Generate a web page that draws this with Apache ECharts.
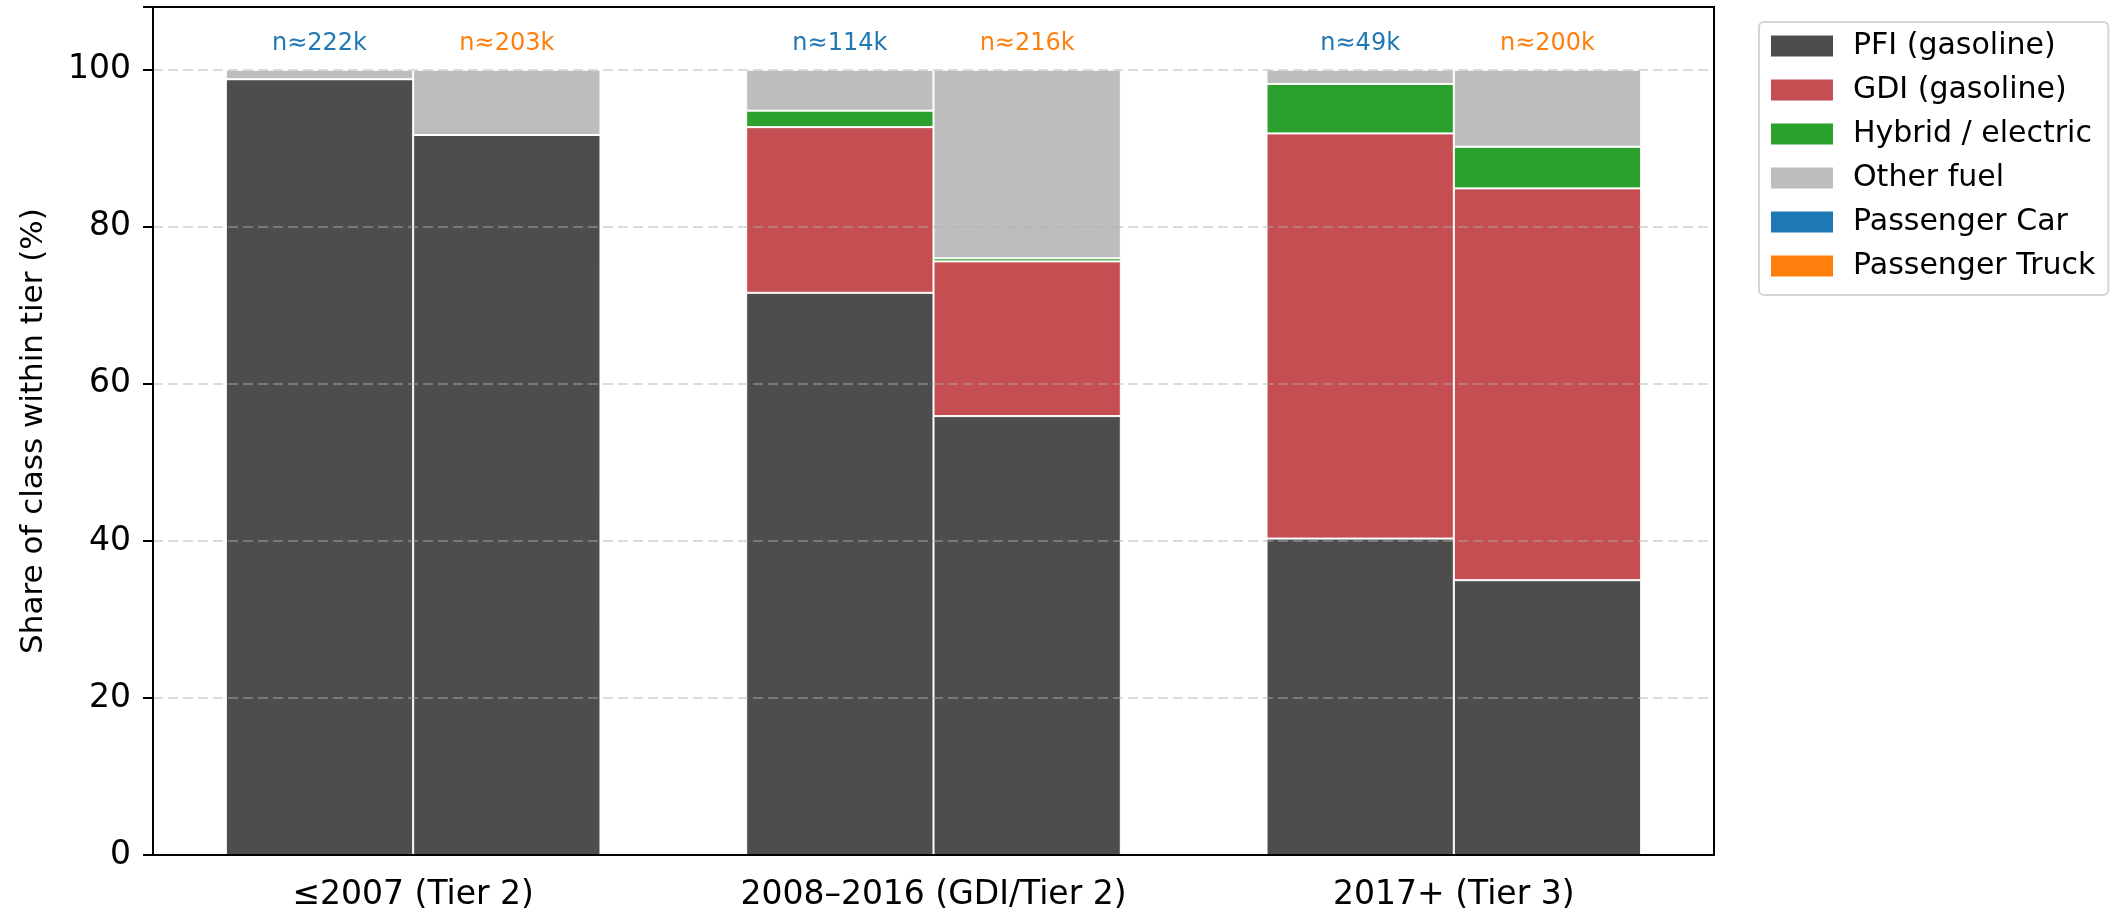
<!DOCTYPE html>
<html>
<head>
<meta charset="utf-8">
<script src="https://cdn.jsdelivr.net/npm/echarts@6/dist/echarts.min.js"></script>
<style>
  html, body { margin: 0; padding: 0; background: #fff; }
  #chart { width: 2121px; height: 912px; }
</style>
</head>
<body>
<div id="chart"></div>
<script>
// tiers on the x axis
var tiers = ['≤2007 (Tier 2)', '2008–2016 (GDI/Tier 2)', '2017+ (Tier 3)'];

// share of class within tier (%), passenger cars
var carPFI    = [98.8, 71.6, 40.3];
var carGDI    = [0, 21.1, 51.6];
var carHybrid = [0, 2.1, 6.3];
var carOther  = [1.2, 5.2, 1.8];

// passenger trucks
var truckPFI    = [91.7, 55.9, 35.0];
var truckGDI    = [0, 19.7, 49.9];
var truckHybrid = [0, 0.4, 5.3];
var truckOther  = [8.3, 24.0, 9.8];

// sample sizes above bars
var nCar   = ['222k', '114k', '49k'];
var nTruck = ['203k', '216k', '200k'];

var yTicks = [0, 20, 40, 60, 80, 100];

var FONT = 'DejaVu Sans';
var colors = {
  pfi: '#4d4d4d',
  gdi: '#c44e52',
  hyb: '#2ca02c',
  oth: '#bdbdbd',
  car: '#1f77b4',
  truck: '#ff7f0e'
};

function barSeries(name, stack, data, color, extra) {
  var s = {
    name: name,
    type: 'bar',
    stack: stack,
    data: data,
    barWidth: '36%',
    barGap: '0%',
    itemStyle: { color: color, borderColor: '#fff', borderWidth: 1 },
    emphasis: { disabled: true }
  };
  if (extra) { for (var k in extra) s[k] = extra[k]; }
  return s;
}

function nLabel(arr, color) {
  return {
    show: true,
    position: 'top',
    distance: 14,
    fontFamily: FONT,
    fontSize: 24,
    color: color,
    formatter: function (p) { return 'n≈' + arr[p.dataIndex]; }
  };
}

var myChart = echarts.init(document.getElementById('chart'));

var option = {
  backgroundColor: '#fff',
  animation: false,
  grid: {
    left: 153, right: 407, top: 7, bottom: 56,
    z: 5,
    show: true, borderColor: '#000', borderWidth: 2
  },
  legend: {
    orient: 'vertical',
    left: 1759, top: 22,
    padding: [9, 13, 14, 10],
    itemWidth: 64, itemHeight: 23,
    itemGap: 14,
    icon: 'rect',
    borderColor: '#d4d4d4', borderWidth: 2, borderRadius: 5,
    backgroundColor: '#fff',
    textStyle: { fontFamily: FONT, fontSize: 30, color: '#000', lineHeight: 30, padding: [0, 0, 0, 14] },
    data: ['PFI (gasoline)', 'GDI (gasoline)', 'Hybrid / electric', 'Other fuel', 'Passenger Car', 'Passenger Truck']
  },
  xAxis: {
    type: 'category',
    data: tiers,
    z: 4,
    axisLine: { lineStyle: { color: '#000', width: 2 } },
    axisTick: { alignWithLabel: true, length: 10, lineStyle: { color: '#000', width: 2 } },
    axisLabel: { fontFamily: FONT, fontSize: 33, color: '#000', margin: 24 }
  },
  yAxis: {
    type: 'value',
    min: 0, max: 108, interval: 20,
    z: 3,
    name: 'Share of class within tier (%)',
    nameLocation: 'middle',
    nameGap: 104,
    nameTextStyle: { fontFamily: FONT, fontSize: 31, color: '#000' },
    axisLine: { show: true, lineStyle: { color: '#000', width: 2 } },
    axisTick: { show: true, length: 10, lineStyle: { color: '#000', width: 2 } },
    axisLabel: {
      fontFamily: FONT, fontSize: 33, color: '#000', margin: 22,
      formatter: function (v) { return yTicks.indexOf(v) >= 0 ? String(v) : ''; }
    },
    splitLine: { show: true, lineStyle: { color: 'rgba(176,176,176,0.45)', width: 2, type: [10, 5] } }
  },
  series: [
    barSeries('PFI (gasoline)', 'car', carPFI, colors.pfi),
    barSeries('GDI (gasoline)', 'car', carGDI, colors.gdi),
    barSeries('Hybrid / electric', 'car', carHybrid, colors.hyb),
    barSeries('Other fuel', 'car', carOther, colors.oth, { label: nLabel(nCar, colors.car) }),
    barSeries('PFI (gasoline)', 'truck', truckPFI, colors.pfi),
    barSeries('GDI (gasoline)', 'truck', truckGDI, colors.gdi),
    barSeries('Hybrid / electric', 'truck', truckHybrid, colors.hyb),
    barSeries('Other fuel', 'truck', truckOther, colors.oth, { label: nLabel(nTruck, colors.truck) }),
    // legend-only entries for the two classes
    barSeries('Passenger Car', 'car', [], colors.car),
    barSeries('Passenger Truck', 'truck', [], colors.truck)
  ]
};

myChart.setOption(option);
</script>
</body>
</html>
